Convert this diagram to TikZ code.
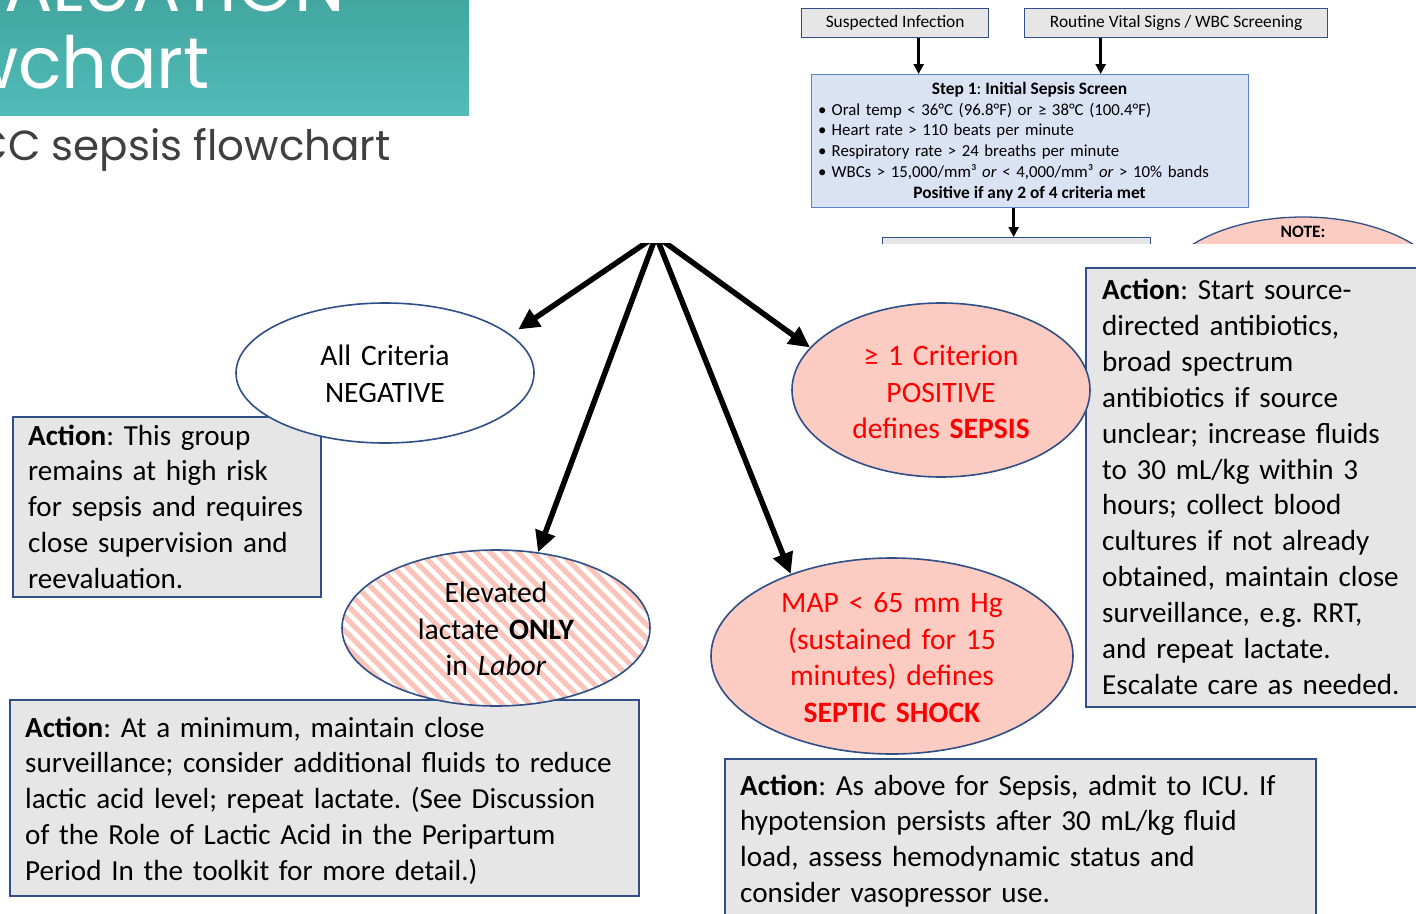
\documentclass[tikz,border=0pt]{standalone}
\usepackage{fontspec}
\setmainfont{Carlito}
\newfontfamily\titlefont{Poppins}
\usetikzlibrary{arrows.meta,shapes.geometric,calc}
\frenchspacing

\definecolor{navy}{HTML}{2F4F86}
\definecolor{boxgray}{HTML}{E7E6E6}
\definecolor{stepblue}{HTML}{DAE3F3}
\definecolor{stepedge}{HTML}{5B83CC}
\definecolor{pinkfill}{RGB}{252,203,193}
\definecolor{hatchpink}{RGB}{249,196,186}
\definecolor{tealtop}{HTML}{43A6A1}
\definecolor{tealbot}{HTML}{51BCB8}
\definecolor{subgray}{HTML}{404040}
\definecolor{alertred}{HTML}{FF0000}

\tikzset{
  actbox/.style={rectangle, draw=navy, line width=1.6pt, fill=boxgray, inner sep=0pt, anchor=north west},
  acttext/.style={anchor=base west, align=left, inner sep=0pt, text width=#1,
                  font=\fontsize{29.1}{35.9}\selectfont},
  ell/.style={ellipse, draw=navy, line width=1.6pt, inner sep=0pt},
  elltext/.style={anchor=base, align=center, inner sep=0pt, text width=320pt,
                  font=\fontsize{29.6}{36.5}\selectfont},
  topbox/.style={rectangle, draw=navy, line width=1.3pt, fill=boxgray, inner sep=0pt,
                 anchor=north west, font=\fontsize{17.4}{20.8}\selectfont,
                 text height=0.9em, text depth=0.1em},
  steptext/.style={inner sep=0pt, font=\fontsize{17.4}{20.7}\selectfont},
  steplist/.style={inner sep=0pt, font=\fontsize{16.8}{20.7}\selectfont},
  thinarrow/.style={-{Triangle[length=10pt,width=10pt]}, line width=2.6pt},
  bigarrow/.style={-{Triangle[length=21pt,width=20pt]}, line width=5.5pt}
}
\newcommand{\bulitem}{\makebox[13.5pt][l]{•}}

\begin{document}
\begin{tikzpicture}[x=1pt,y=-1pt]
\useasboundingbox (0,0) rectangle (1416,913);
\clip (0,0) rectangle (1416,913);
\fill[white] (0,0) rectangle (1416,913);

% ---- title banner ----
\shade[top color=tealtop, bottom color=tealbot] (0,0) rectangle (469,115);
\node[anchor=base east, inner sep=0pt, text=white, font=\titlefont\fontsize{72}{78}\selectfont]
  (ttlone) at (345,11) {EVALUATION};
\node[anchor=base east, inner sep=0pt, text=white, font=\titlefont\fontsize{72}{78}\selectfont]
  (ttltwo) at (210,88) {flowchart};
\node[anchor=base east, inner sep=0pt, text=subgray, font=\titlefont\fontsize{42}{50}\selectfont]
  (subt) at (391,160) {CMQCC sepsis flowchart};

% ---- screening steps (upper right) ----
\node[topbox, minimum width=187pt, minimum height=29pt] (susp) at (801,8) {Suspected Infection};
\node[topbox, minimum width=303pt, minimum height=29pt] (routine) at (1024,8) {Routine Vital Signs / WBC Screening};
\node[rectangle, draw=stepedge, line width=1.3pt, fill=stepblue, inner sep=0pt, anchor=north west,
      minimum width=437pt, minimum height=133pt] (step) at (811,74) {};
\node[steptext, anchor=base] (steptitle) at (1029.5,94)
  {\textbf{Step 1}: \textbf{Initial Sepsis Screen}};
\node[steplist, anchor=base west, text width=430pt, align=left] (steplist) at (818,115)
  {\bulitem Oral temp < 36°C (96.8°F) or ≥ 38°C (100.4°F)\\
   \bulitem Heart rate > 110 beats per minute\\
   \bulitem Respiratory rate > 24 breaths per minute\\
   \bulitem WBCs > 15,000/mm³ \textit{or} < 4,000/mm³ \textit{or} > 10\% bands};
\node[steptext, anchor=base] (stepfoot) at (1029.5,198.5)
  {\textbf{Positive if any 2 of 4 criteria met}};

\draw[thinarrow] ([xshift=23.5pt]susp.south) -- ([xshift=23.5pt]susp.south |- step.north);
\draw[thinarrow] ([xshift=-75.5pt]routine.south) -- ([xshift=-75.5pt]routine.south |- step.north);

\begin{scope}
  \clip (790,0) rectangle (1416,243);
  \node[rectangle, draw=navy, line width=1.3pt, fill=boxgray, inner sep=0pt, anchor=north west,
        minimum width=268pt, minimum height=60pt] (nextbox) at (882,237) {};
  \node[ellipse, draw=navy, line width=1.3pt, fill=pinkfill, inner sep=0pt,
        minimum width=300pt, minimum height=170pt] (note) at (1303,302) {};
  \node[steptext, anchor=base] (notetitle) at (1303,237) {\textbf{NOTE:}};
\end{scope}
\draw[thinarrow] ([xshift=-16.5pt]step.south) -- ([xshift=-16.5pt]step.south |- nextbox.north);

% ---- action boxes ----
\node[actbox, minimum width=308pt, minimum height=180pt] (negbox) at (12,416) {};
\node[acttext=300pt] (negtext) at (28,445)
  {\textbf{Action}: This group\\
   remains at high risk\\
   for sepsis and requires\\
   close supervision and\\
   reevaluation.};

\node[actbox, minimum width=629pt, minimum height=196pt] (lacbox) at (9,699) {};
\node[acttext=620pt] (lactext) at (25,737)
  {\textbf{Action}: At a minimum, maintain close\\
   surveillance; consider additional fluids to reduce\\
   lactic acid level; repeat lactate. (See Discussion\\
   of the Role of Lactic Acid in the Peripartum\\
   Period In the toolkit for more detail.)};

\node[actbox, minimum width=360pt, minimum height=439pt] (sepbox) at (1085,267) {};
\node[acttext=320pt] (septext) at (1102,299.5)
  {\textbf{Action}: Start source-\\
   directed antibiotics,\\
   broad spectrum\\
   antibiotics if source\\
   unclear; increase fluids\\
   to 30 mL/kg within 3\\
   hours; collect blood\\
   cultures if not already\\
   obtained, maintain close\\
   surveillance, e.g. RRT,\\
   and repeat lactate.\\
   Escalate care as needed.};

\node[actbox, minimum width=591pt, minimum height=200pt] (shockbox) at (724,758) {};
\node[acttext=580pt] (shocktext) at (740,795)
  {\textbf{Action}: As above for Sepsis, admit to ICU. If\\
   hypotension persists after 30 mL/kg fluid\\
   load, assess hemodynamic status and\\
   consider vasopressor use.};

% ---- outcome ellipses ----
\node[ell, fill=white, minimum width=298pt, minimum height=140pt] (neg) at (385,373) {};
\node[elltext] (negtxt) at (385,365.5) {All Criteria\\NEGATIVE};

\node[ell, fill=pinkfill, minimum width=298pt, minimum height=174pt] (sep) at (941,390) {};
\node[elltext, text=alertred] (septxt) at (941,365.5)
  {≥ 1 Criterion\\POSITIVE\\defines \textbf{SEPSIS}};

\node[ell, fill=white, minimum width=308pt, minimum height=156pt,
      path picture={
        \foreach \c in {-196,-182,...,196}
          \draw[hatchpink, line width=5pt]
            ([xshift=\c pt]path picture bounding box.center) ++(-120,-120) -- ++(240,240);
      }] (lac) at (496,628) {};
\node[elltext] (lactxt) at (496,602.5)
  {Elevated\\lactate \textbf{ONLY}\\in \textit{Labor}};

\node[ell, fill=pinkfill, minimum width=362pt, minimum height=196pt] (shock) at (892,656) {};
\node[elltext, text=alertred] (shocktxt) at (892,612.5)
  {MAP < 65 mm Hg\\(sustained for 15\\minutes) defines\\\textbf{SEPTIC SHOCK}};

% ---- branching arrows ----
\coordinate (fork) at (656,236);
\begin{scope}
  \clip (0,243) rectangle (1416,913);
  \draw[bigarrow, shorten >=9pt] (fork) -- (neg.17);
  \draw[bigarrow] (fork) -- (lac.61);
  \draw[bigarrow] (fork) -- (shock.141);
  \draw[bigarrow] (fork) -- (sep.162);
\end{scope}
\end{tikzpicture}
\end{document}
